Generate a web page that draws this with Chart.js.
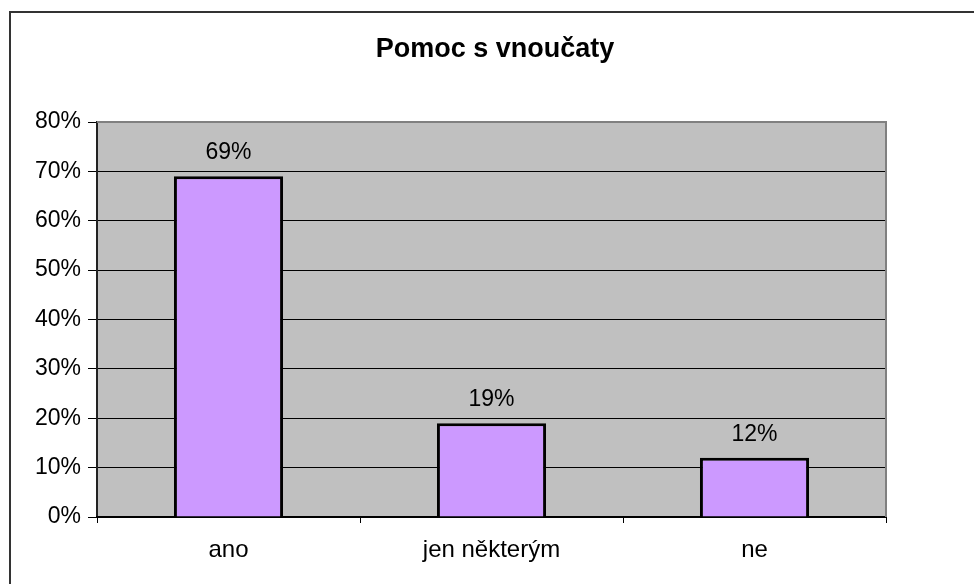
<!DOCTYPE html>
<html>
<head>
<meta charset="utf-8">
<script src="https://cdn.jsdelivr.net/npm/chart.js@4.4.1/dist/chart.umd.min.js"></script>
<style>
    body { margin: 0; background: #fff; }
    #wrap { width: 974px; height: 584px; position: relative; }
</style>
</head>
<body>
<div id="wrap"><canvas id="chart"></canvas></div>
<script>
// Chart data
const chartTitle = 'Pomoc s vnoučaty';
const categories = ['ano', 'jen některým', 'ne'];
const shares = [69, 19, 12];
const yTicks = [0, 10, 20, 30, 40, 50, 60, 70, 80];

const fontFamily = '"Liberation Sans", Arial, sans-serif';

// Frame, plot background, plot border, title and value labels
const excelLook = {
    id: 'excelLook',
    beforeDraw(chart) {
        const { ctx, chartArea: a } = chart;
        ctx.save();
        ctx.fillStyle = '#fff';
        ctx.fillRect(0, 0, chart.width, chart.height);
        ctx.strokeStyle = '#333';
        ctx.lineWidth = 2;
        ctx.strokeRect(10, 12, chart.width + 20, chart.height + 20);
        ctx.fillStyle = '#c0c0c0';
        ctx.fillRect(a.left, a.top, a.right - a.left, a.bottom - a.top);
        ctx.restore();
    },
    beforeDatasetsDraw(chart) {
        const { ctx, chartArea: a } = chart;
        ctx.save();
        ctx.strokeStyle = '#808080';
        ctx.lineWidth = 2;
        ctx.beginPath();
        ctx.moveTo(a.left, a.top);
        ctx.lineTo(a.right, a.top);
        ctx.lineTo(a.right, a.bottom);
        ctx.stroke();
        ctx.restore();
    },
    afterDatasetsDraw(chart) {
        const { ctx } = chart;
        ctx.save();
        ctx.fillStyle = '#000';
        ctx.font = 'bold 27px ' + fontFamily;
        ctx.textAlign = 'center';
        ctx.textBaseline = 'alphabetic';
        ctx.fillText(chartTitle, 495, 57);

        ctx.font = '23px ' + fontFamily;
        chart.getDatasetMeta(0).data.forEach((bar, i) => {
            ctx.fillText(shares[i] + '%', bar.x, bar.y - 17);
        });
        ctx.restore();
    }
};

new Chart(document.getElementById('chart'), {
    type: 'bar',
    data: {
        labels: categories,
        datasets: [{
            data: shares,
            backgroundColor: '#cc99ff',
            borderColor: '#000',
            borderWidth: 3,
            categoryPercentage: 1,
            barPercentage: 0.415
        }]
    },
    options: {
        responsive: true,
        maintainAspectRatio: false,
        animation: false,
        devicePixelRatio: 1,
        layout: {
            padding: { left: 0, right: 88, top: 122, bottom: 0 }
        },
        plugins: {
            legend: { display: false },
            tooltip: { enabled: false }
        },
        scales: {
            y: {
                min: 0,
                max: 80,
                afterBuildTicks: (scale) => {
                    scale.ticks = yTicks.map(v => ({ value: v }));
                },
                afterFit: (scale) => { scale.width = 97; },
                ticks: {
                    color: '#000',
                    padding: 7,
                    font: { family: fontFamily, size: 23 },
                    callback: (v) => v + '%'
                },
                grid: {
                    color: (c) => c.tick && c.tick.value === 80 ? 'rgba(0,0,0,0)' : '#000',
                    lineWidth: 1,
                    tickLength: 9,
                    tickColor: '#000'
                },
                border: { color: '#222', width: 2 }
            },
            x: {
                afterFit: (scale) => { scale.height = 67; },
                ticks: {
                    color: '#000',
                    padding: 13,
                    font: { family: fontFamily, size: 24 }
                },
                grid: {
                    offset: true,
                    drawOnChartArea: false,
                    tickLength: 6,
                    tickColor: '#000'
                },
                border: { color: '#000', width: 2 }
            }
        }
    },
    plugins: [excelLook]
});
</script>
</body>
</html>
